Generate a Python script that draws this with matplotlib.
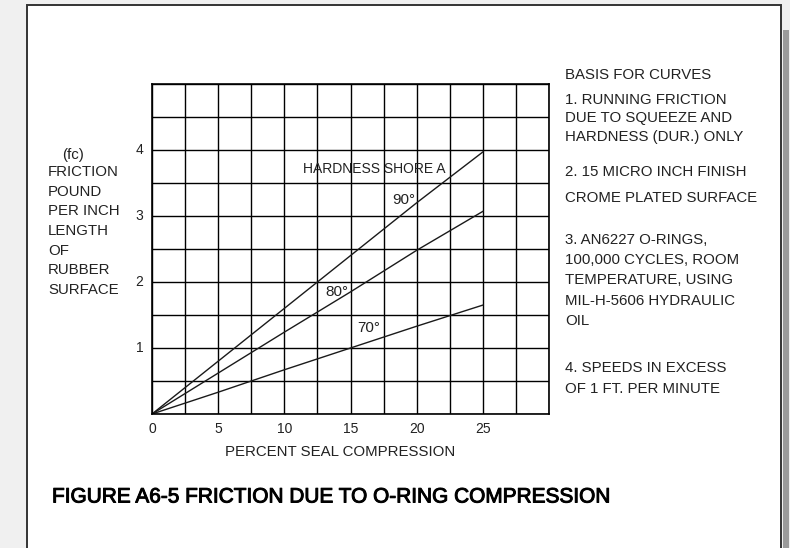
import matplotlib
matplotlib.use('Agg')
import matplotlib.pyplot as plt
import matplotlib.patheffects as pe
from matplotlib.patches import Rectangle

plt.rcParams['font.family'] = ['Liberation Sans', 'DejaVu Sans']

# percent seal compression
compression = [0, 5, 10, 15, 20, 25]
# friction (lb per inch) for each shore A hardness
fric_90 = [0, 0.80, 1.60, 2.40, 3.20, 3.97]
fric_80 = [0, 0.62, 1.24, 1.85, 2.48, 3.07]
fric_70 = [0, 0.33, 0.67, 1.00, 1.33, 1.65]
hardness_labels = ['90°', '80°', '70°']
x_ticks = [0, 5, 10, 15, 20, 25]
y_ticks = [1, 2, 3, 4]

left_label = ['FRICTION', 'POUND', 'PER INCH', 'LENGTH', 'OF', 'RUBBER', 'SURFACE']
notes = [
    ('BASIS FOR CURVES', 75),
    ('1. RUNNING FRICTION', 100),
    ('DUE TO SQUEEZE AND', 118),
    ('HARDNESS (DUR.) ONLY', 137),
    ('2. 15 MICRO INCH FINISH', 172),
    ('CROME PLATED SURFACE', 198),
    ('3. AN6227 O-RINGS,', 240),
    ('100,000 CYCLES, ROOM', 260),
    ('TEMPERATURE, USING', 280),
    ('MIL-H-5606 HYDRAULIC', 301),
    ('OIL', 321),
    ('4. SPEEDS IN EXCESS', 368),
    ('OF 1 FT. PER MINUTE', 389),
]

W, H = 790, 548
tc = '#222222'
fs = 10.8


def px(x, y):
    return x / W, 1 - y / H


fig = plt.figure(figsize=(7.9, 5.48), dpi=100)
fig.patch.set_facecolor('#f0f0f0')

# page frame and shadow on a background axes
bg = fig.add_axes([0, 0, 1, 1], zorder=-1)
bg.set_xlim(0, W)
bg.set_ylim(H, 0)
bg.axis('off')
bg.add_patch(Rectangle((27, 5), 754, 560, facecolor='white', edgecolor='#333333', lw=1.4))
bg.add_patch(Rectangle((783, 30), 6, 560, facecolor='#9a9a9a', edgecolor='none'))

ax = fig.add_axes([152 / W, 1 - 414 / H, 397 / W, 330 / H])
ax.set_xlim(0, 30)
ax.set_ylim(0, 5)
ax.set_facecolor('white')

lc = '#1a1a1a'
ax.plot(compression, fric_90, color=lc, lw=1.0)
ax.plot(compression, fric_80, color=lc, lw=1.0)
ax.plot(compression, fric_70, color=lc, lw=1.0)

ax.set_xticks([i * 2.5 for i in range(13)])
ax.set_yticks([i * 0.5 for i in range(11)])
ax.grid(True, color='black', lw=1.0)
ax.set_axisbelow(True)
ax.tick_params(length=0, labelbottom=False, labelleft=False)
for s in ax.spines.values():
    s.set_linewidth(1.2)

for v in x_ticks:
    ax.text(v, -0.12, str(v), ha='center', va='top', fontsize=10, color=tc)
for v in y_ticks:
    ax.text(-0.65, v, str(v), ha='right', va='center', fontsize=10, color=tc)

ax.text(16.8, 3.71, 'HARDNESS SHORE A', ha='center', va='center', fontsize=10, color=tc)
ax.text(19.0, 3.24, hardness_labels[0], ha='center', va='center', fontsize=11, color=tc)
ax.text(14.0, 1.85, hardness_labels[1], ha='center', va='center', fontsize=11, color=tc)
ax.text(16.4, 1.30, hardness_labels[2], ha='center', va='center', fontsize=11, color=tc)

fig.text(*px(340, 452), 'PERCENT SEAL COMPRESSION', ha='center', va='center', fontsize=fs, color=tc)

fig.text(*px(73, 155), '(fc)', ha='center', va='center', fontsize=fs, color=tc)
for i, t in enumerate(left_label):
    fig.text(*px(48, 172 + i * 19.7), t, ha='left', va='center', fontsize=fs, color=tc)

for t, y in notes:
    fig.text(*px(565, y), t, ha='left', va='center', fontsize=fs, color=tc)

fig.text(*px(52, 497), 'FIGURE A6-5 FRICTION DUE TO O-RING COMPRESSION', ha='left', va='center',
         fontsize=15, color='black',
         path_effects=[pe.withStroke(linewidth=0.7, foreground='black')])

fig.savefig('out.png', dpi=100, facecolor=fig.get_facecolor())
